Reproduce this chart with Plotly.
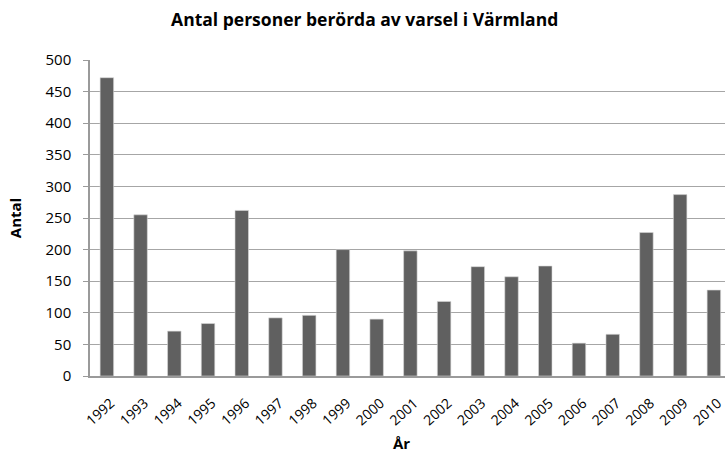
import plotly.graph_objects as go

years = [str(y) for y in range(1992, 2011)]
antal = [472, 255, 71, 83, 262, 92, 96, 200, 90, 198, 118, 173, 157, 174, 52, 66, 227, 287, 136]
y_ticks = list(range(0, 501, 50))

font = "'Open Sans', Calibri, Lato, sans-serif"

fig = go.Figure()
fig.add_trace(go.Bar(
    x=years, y=antal,
    marker=dict(color="#606060", line=dict(color="#d8d8d8", width=0.6)),
))

fig.update_layout(
    width=725, height=471,
    margin=dict(l=90, r=0, t=60, b=95),
    paper_bgcolor="white", plot_bgcolor="white",
    bargap=0.6,
    showlegend=False,
    font=dict(family=font, color="#000000", size=15),
    title=dict(text="<b>Antal personer berörda av varsel i Värmland</b>",
               x=0.503, xanchor="center", y=0.957, yanchor="middle",
               font=dict(size=17.5, family=font)),
)
fig.update_xaxes(
    type="category", range=[-0.5, 18.33], automargin=False,
    tickangle=-42, tickfont=dict(size=14),
    ticklabelstandoff=12, ticklabelshift=4,
    showline=True, linecolor="#9a9a9a", linewidth=1.5,
    ticks="", showgrid=False,
)
fig.update_yaxes(
    range=[0, 500], tickvals=y_ticks, automargin=False,
    showgrid=True, gridcolor="#a6a6a6", gridwidth=1.2,
    showline=True, linecolor="#9a9a9a", linewidth=1.5,
    ticks="outside", ticklen=5, tickcolor="#9a9a9a",
    ticklabelstandoff=9,
    zeroline=False,
    title=dict(text="<b>Antal</b>", font=dict(size=15), standoff=20),
)
# x-axis title placed directly so the rotated tick labels don't push it down
fig.add_annotation(text="<b>År</b>", xref="paper", yref="paper",
                   x=0.49, y=-0.213, showarrow=False,
                   xanchor="center", yanchor="middle", font=dict(size=15))

# the page body has a default 8px margin; drop it so the figure fills the window
fig.write_html("out.html", config={"displayModeBar": False},
               post_script="document.body.style.margin='0px';")
